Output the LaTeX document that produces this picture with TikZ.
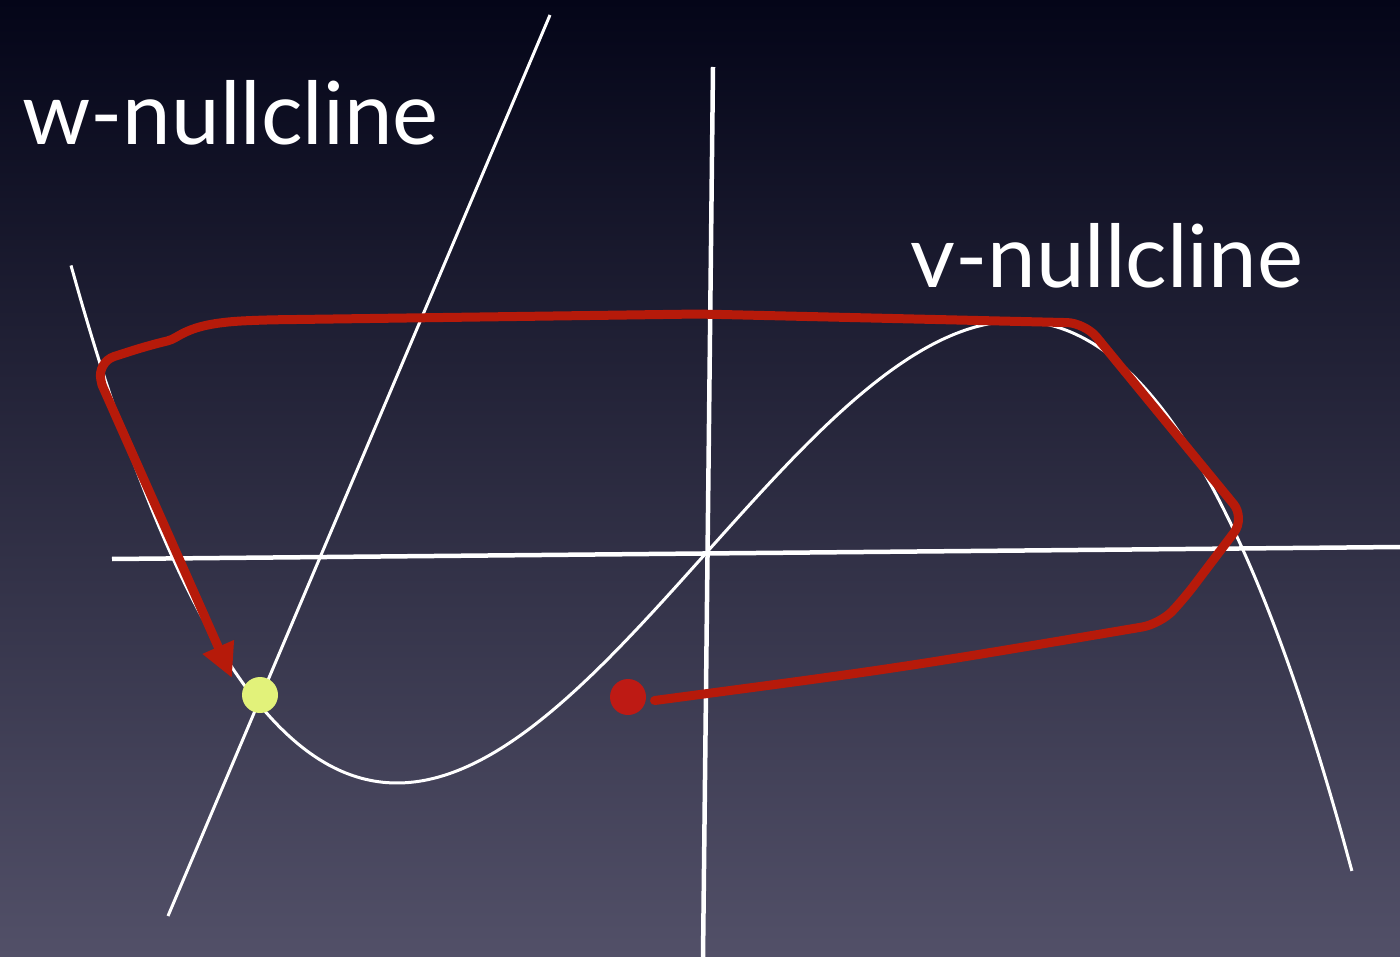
\documentclass[tikz,border=0pt]{standalone}
\usepackage{fontspec}
\setmainfont{Lato}
\usetikzlibrary{arrows.meta,positioning}
\definecolor{bgtop}{RGB}{4,5,24}
\definecolor{bgmid}{RGB}{34,36,66}
\definecolor{bgbot}{RGB}{82,80,104}
\definecolor{trajred}{RGB}{182,26,10}
\definecolor{restyellow}{RGB}{226,242,122}
\definecolor{startred}{RGB}{190,26,20}

\begin{document}
\begin{tikzpicture}[x=1pt,y=-1pt]
\tikzstyle{axis}=[draw=white,line width=4.5pt]
\tikzstyle{null}=[draw=white,line width=3pt]
\tikzstyle{lab}=[text=white,font=\fontsize{87}{95}\selectfont,anchor=base west,inner sep=0pt]
\tikzstyle{dot}=[circle,inner sep=0pt,minimum size=36pt]
\tikzstyle{traj}=[draw=trajred,line width=9pt,line cap=round,line join=round]
   \useasboundingbox (0,0) rectangle (1400,957);
   \shade[top color=bgtop,middle color=bgmid,bottom color=bgbot] (0,0) rectangle (1400,957);

   % axes
   \path [axis] (112,559) -- (1400,547);
   \path [axis] (713,67) -- (703,957);

   % w-nullcline (line) and v-nullcline (cubic)
   \path [null] (550,15) -- (168,916);
   \path [null] plot[domain=-6.36:6.45,samples=120,smooth]
      ({707+100*\x},{552-111.77*\x+3.877*\x*\x*\x});

   \node (wlabel) [lab] at (22,145) {w-nullcline};
   \node (vlabel) [lab] at (910,288) {v-nullcline};

   \node (ydot) [dot,fill=restyellow] at (260,695) {};
   \node (rdot) [dot,fill=startred] at (628,697) {};
   \coordinate (tipend) at (232,678);

   % trajectory
   \path [traj,rounded corners=18pt,shorten <=9pt] (rdot.-15) .. controls (900,668) .. (1160,624)
      -- (1183,600) -- (1245,518) -- (1085,323) -- (700,314) -- (260,320)
      .. controls (185,324) and (180,338) .. (150,345) -- (97,362) -- (102,385);
   \path [traj,-{Triangle[length=34pt,width=32pt]}] (102,385) -- (tipend);
\end{tikzpicture}
\end{document}
